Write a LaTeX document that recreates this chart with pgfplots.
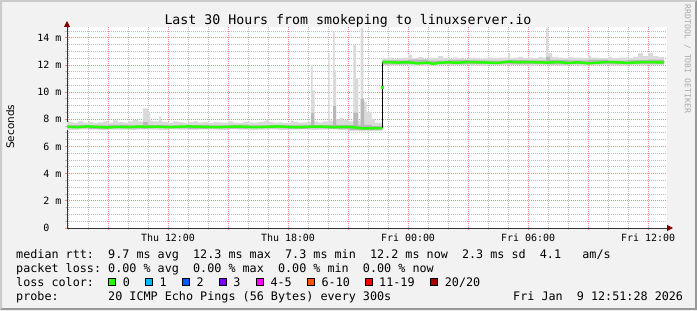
\documentclass[border=0pt]{standalone}
\usepackage{pgfplots}
\usepackage{pgfplotstable}
\pgfplotsset{compat=1.18}
\usetikzlibrary{arrows.meta}
\usepackage{fontspec}
\setmainfont{DejaVu Sans}
\newfontfamily\mono{DejaVu Sans Mono}
\definecolor{bgc}{HTML}{F2F2F2}
\definecolor{shadeA}{HTML}{CBCBCB}
\definecolor{shadeB}{HTML}{999999}
\definecolor{majgrid}{HTML}{EE8A8A}
\definecolor{mingrid}{HTML}{BDBDBD}
\definecolor{smokeL}{HTML}{DADADA}
\definecolor{smokeM}{HTML}{B8B8B8}
\definecolor{med}{HTML}{26FF00}
\definecolor{arrowc}{HTML}{7F0000}
\definecolor{axisc}{HTML}{333333}
\definecolor{lc0}{HTML}{26FF00}
\definecolor{lc1}{HTML}{00B8FF}
\definecolor{lc2}{HTML}{0059FF}
\definecolor{lc3}{HTML}{7E00FF}
\definecolor{lc4}{HTML}{FF00FF}
\definecolor{lc6}{HTML}{FF5500}
\definecolor{lc11}{HTML}{FF0000}
\definecolor{lc20}{HTML}{A10000}
\definecolor{wm}{HTML}{AAAAAA}

% light smoke band: max (ascending) then min (descending)
\pgfplotstableread{
x y
6.95 7.80
7.25 7.75
7.5 7.85
7.75 7.75
8.0 7.80
8.25 7.72
8.5 7.78
8.75 7.85
9.0 7.75
9.25 7.92
9.5 7.80
9.75 7.75
10.0 7.85
10.25 7.95
10.5 7.85
10.75 8.80
11.0 8.50
11.1 7.90
11.25 7.85
11.55 8.20
11.65 7.85
11.75 7.80
12.0 7.75
12.25 7.85
12.5 7.80
12.75 7.75
13.0 7.80
13.25 7.85
13.5 7.75
13.75 7.80
14.0 7.72
14.25 7.80
14.5 7.78
14.75 7.75
15.0 7.85
15.25 7.75
15.5 7.72
15.75 7.80
16.0 7.78
16.25 7.75
16.5 7.80
16.75 7.85
16.9 8.00
17.0 7.80
17.25 7.75
17.5 7.78
17.75 7.72
18.0 7.75
18.15 7.90
18.3 7.80
18.5 7.75
18.75 7.78
19.0 7.80
19.15 12.00
19.235 10.15
19.335 7.85
19.5 7.78
19.75 7.85
20.015 12.90
20.085 7.90
20.25 14.45
20.325 11.60
20.4 8.00
20.6 8.10
20.75 7.95
21.0 7.85
21.265 13.46
21.4 11.00
21.515 7.90
21.635 14.74
21.765 9.30
21.935 8.55
22.185 8.05
22.35 7.75
22.715 12.50
23.0 12.55
23.25 12.45
23.5 12.50
23.75 12.55
24.0 12.75
24.2 12.50
24.5 12.60
24.75 12.45
25.0 12.55
25.25 12.50
25.5 12.65
25.75 12.50
26.0 12.45
26.25 12.55
26.5 12.50
26.75 12.45
27.0 12.50
27.25 12.55
27.5 12.45
27.75 12.50
28.0 12.55
28.25 12.50
28.5 12.55
29.0 12.87
29.1 12.50
29.25 12.55
29.5 12.60
29.75 12.50
30.0 12.55
30.25 12.50
30.5 12.60
30.75 12.55
30.9 14.75
31.0 12.87
31.2 12.60
31.5 12.55
31.75 12.50
32.0 12.60
32.25 12.55
32.5 12.55
32.75 12.50
33.0 12.67
33.15 12.55
33.5 12.50
33.75 12.50
34.0 12.60
34.2 12.50
34.5 12.55
34.75 12.55
35.0 12.50
35.25 12.60
35.5 12.87
35.75 12.65
36.0 12.87
36.25 12.65
36.5 12.60
36.8 12.60
36.8 12.00
36.5 12.00
36.0 11.98
35.5 12.00
35.0 11.95
34.5 11.98
34.0 12.00
33.5 11.97
33.0 11.92
32.5 12.00
32.0 11.95
31.5 11.98
31.0 12.00
30.5 11.95
30.0 11.98
29.5 12.00
29.0 11.97
28.5 12.00
28.0 11.95
27.5 11.98
27.0 12.00
26.5 11.97
26.0 12.00
25.5 11.95
25.0 11.98
24.5 11.92
24.0 12.00
23.5 11.95
23.0 11.98
22.715 12.00
22.715 7.14
22.5 7.14
22.0 7.12
21.5 7.15
21.0 7.22
20.5 7.26
20.0 7.24
19.5 7.22
19.0 7.26
18.5 7.24
18.0 7.22
17.5 7.26
17.0 7.24
16.5 7.20
16.0 7.24
15.5 7.26
15.0 7.22
14.5 7.24
14.0 7.26
13.5 7.22
13.0 7.24
12.5 7.26
12.0 7.22
11.5 7.24
11.0 7.26
10.5 7.22
10.0 7.24
9.5 7.25
9.0 7.20
8.5 7.24
8.0 7.26
7.5 7.22
6.95 7.25
}\smokeL
% darker inner smoke band
\pgfplotstableread{
x y
6.95 7.58
8.0 7.55
9.0 7.60
10.0 7.56
10.75 7.80
11.0 7.58
12.0 7.55
13.0 7.58
14.0 7.56
15.0 7.60
16.0 7.55
17.0 7.58
18.0 7.56
19.0 7.60
19.15 8.50
19.3 7.58
20.0 7.60
20.25 9.00
20.4 7.60
21.0 7.58
21.265 8.50
21.5 7.55
21.635 9.50
21.8 7.60
22.2 7.50
22.715 12.35
24.0 12.40
25.0 12.33
26.0 12.38
27.0 12.35
28.0 12.32
29.0 12.38
30.0 12.35
30.9 12.60
31.1 12.38
32.0 12.35
33.0 12.40
34.0 12.33
35.0 12.36
36.0 12.40
36.8 12.40
36.8 12.08
36.0 12.08
35.0 12.06
34.0 12.10
33.0 12.08
32.0 12.05
31.0 12.08
30.0 12.07
29.0 12.10
28.0 12.08
27.0 12.06
26.0 12.10
25.0 12.08
24.0 12.05
22.715 12.08
22.715 7.22
21.5 7.22
21.0 7.30
20.0 7.34
19.0 7.30
18.0 7.33
17.0 7.35
16.0 7.32
15.0 7.34
14.0 7.30
13.0 7.33
12.0 7.35
11.0 7.32
10.0 7.34
9.0 7.30
8.0 7.35
6.95 7.33
}\smokeM
% median rtt
\pgfplotstableread{
x y
6.95 7.45
7.5 7.42
8.0 7.48
8.5 7.44
9.0 7.40
9.5 7.45
10.0 7.42
10.5 7.47
11.0 7.44
11.5 7.46
12.0 7.42
12.5 7.45
13.0 7.48
13.5 7.46
14.0 7.44
14.5 7.42
15.0 7.45
15.5 7.47
16.0 7.44
16.5 7.42
17.0 7.45
17.5 7.48
18.0 7.44
18.5 7.42
19.0 7.45
19.5 7.47
20.0 7.44
20.5 7.42
21.0 7.45
21.5 7.38
21.75 7.33
22.0 7.34
22.5 7.35
22.715 7.35
}\medA
\pgfplotstableread{
x y
22.715 12.20
23.0 12.22
23.5 12.18
24.0 12.20
24.5 12.12
25.0 12.18
25.25 12.08
25.5 12.15
26.0 12.20
26.5 12.17
27.0 12.22
27.5 12.20
28.0 12.18
28.5 12.15
29.0 12.25
29.5 12.20
30.0 12.22
30.5 12.20
31.0 12.18
31.5 12.22
32.0 12.15
32.5 12.20
33.0 12.12
33.5 12.18
34.0 12.22
34.5 12.20
35.0 12.15
35.5 12.20
36.0 12.22
36.5 12.20
36.8 12.20
}\medB

\begin{document}
\begin{tikzpicture}[x=1bp,y=1bp]
\fill[bgc] (0,0) rectangle (697,310);
\fill[shadeA] (0,0) -- (0,310) -- (697,310) -- (695,308) -- (2,308) -- (2,2) -- cycle;
\fill[shadeB] (0,0) -- (697,0) -- (697,310) -- (695,308) -- (695,2) -- (2,2) -- cycle;
\useasboundingbox (0,0) rectangle (697,310);
\begin{axis}[
  scale only axis, width=600bp, height=201bp,
  at={(67bp,82bp)}, anchor=south west,
  xmin=6.95, xmax=36.95, ymin=0, ymax=14.8,
  axis background/.style={fill=white},
  axis x line*=bottom, axis y line*=left,
  x axis line style={draw=axisc, line width=1bp, shorten >=-6bp, -{Triangle[length=6bp,width=6bp,color=arrowc]}},
  y axis line style={draw=axisc, line width=1bp, shorten >=-6bp, -{Triangle[length=6bp,width=6bp,color=arrowc]}},
  xtick={9,12,...,36},
  xticklabels={{},Thu 12:00,{},Thu 18:00,{},Fri 00:00,{},Fri 06:00,{},Fri 12:00},
  minor xtick={7,8,10,11,13,14,16,17,19,20,22,23,25,26,28,29,31,32,34,35},
  ytick={0,2,...,14},
  yticklabels={0\hphantom{~m},2~m,4~m,6~m,8~m,10~m,12~m,14~m},
  minor ytick={0.5,1,1.5,2.5,3,3.5,4.5,5,5.5,6.5,7,7.5,8.5,9,9.5,10.5,11,11.5,12.5,13,13.5,14.5},
  grid=both,
  major grid style={draw=majgrid, line width=1bp, dash pattern=on 1bp off 1bp},
  minor grid style={draw=mingrid, line width=1bp, dash pattern=on 1bp off 1bp},
  tick align=outside, major tick length=2bp, minor tick length=2bp,
  major tick style={draw=majgrid, line width=1bp},
  minor tick style={draw=mingrid, line width=1bp},
  xticklabel style={font=\mono\fontsize{10}{12}\selectfont, text=black},
  yticklabel style={font=\mono\fontsize{10}{12}\selectfont, text=black, anchor=east},
]
\addplot[fill=smokeL, draw=none, const plot] table {\smokeL} -- cycle;
\addplot[fill=smokeM, draw=none, const plot] table {\smokeM} -- cycle;
\addplot[black, line width=1bp] coordinates {(22.715,7.35) (22.715,12.2)};
\addplot[med, line width=2.5bp] table {\medA};
\addplot[med, line width=2.5bp] table {\medB};
\addplot[only marks, mark=square*, mark size=1bp, mark options={fill=med, draw=med}] coordinates {(22.715,10.4)};
\end{axis}
\node[anchor=base, inner sep=0] at (348,286) {\mono\fontsize{13.3}{16}\selectfont Last 30 Hours from smokeping to linuxserver.io};
\node[rotate=90, anchor=base, inner sep=0] at (14,183.3) {\fontsize{10.5}{12}\selectfont Seconds};
\node[rotate=-90, anchor=center, inner sep=0, text=wm] at (687.5,251) {\mono\fontsize{8.2}{10}\selectfont RRDTOOL / TOBI OETIKER};
\begin{scope}[every node/.style={anchor=base west, inner sep=0, font=\mono\fontsize{11.8}{14}\selectfont}]
\node at (16,52) {median rtt:~~9.7 ms avg~~12.3 ms max~~7.3 ms min~~12.2 ms now~~2.3 ms sd~~4.1~~~am/s};
\node at (16,38) {packet loss:~0.00 \% avg~~0.00 \% max~~0.00 \% min~~0.00 \% now};
\node at (16,24) {loss color:};
\node at (16,10) {probe:~~~~~~~20 ICMP Echo Pings (56 Bytes) every 300s};
\node at (513,10) {Fri Jan~~9 12:51:28 2026};
\node at (122.7,24) {0};
\node at (159.3,24) {1};
\node at (196.4,24) {2};
\node at (233.2,24) {3};
\node at (270.3,24) {4-5};
\node at (321.4,24) {6-10};
\node at (379.0,24) {11-19};
\node at (444.7,24) {20/20};
\end{scope}
\foreach \bx/\bc in {108.3/lc0,145.0/lc1,182.0/lc2,219.0/lc3,256.0/lc4,307.3/lc6,365.0/lc11,430.0/lc20}{
  \filldraw[fill=\bc, draw=black, line width=1bp] (\bx+0.5,25) rectangle (\bx+7.5,32);
}
\end{tikzpicture}
\end{document}
